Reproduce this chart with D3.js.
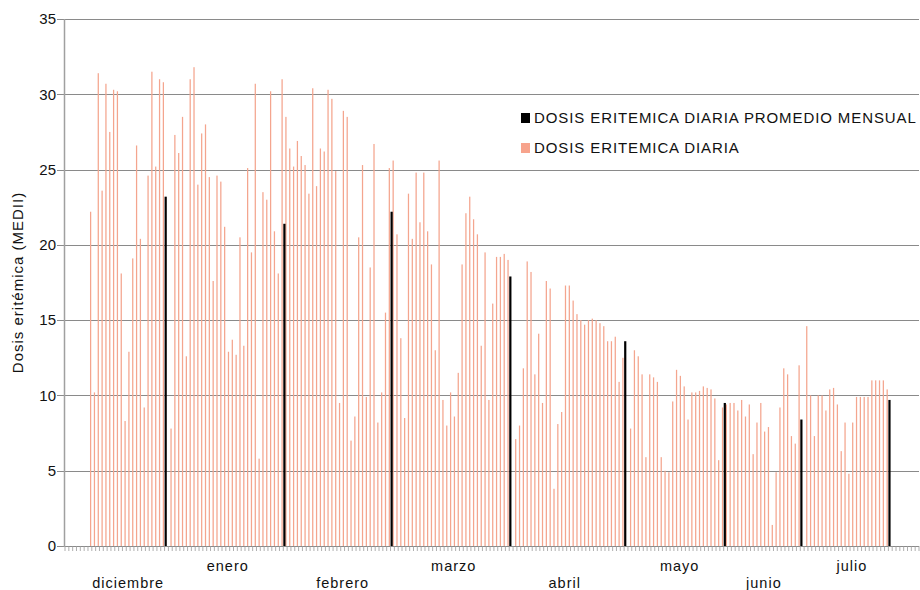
<!DOCTYPE html>
<html>
<head>
<meta charset="utf-8">
<script src="https://cdn.jsdelivr.net/npm/d3@7"></script>
<style>
  body { margin: 0; background: #fff; }
  svg text { font-family: "Liberation Sans", Arial, sans-serif; fill: #111; }
</style>
</head>
<body>
<svg id="chart" width="920" height="590"></svg>
<script>
// months, as labelled under the axis
var months = ['diciembre', 'enero', 'febrero', 'marzo', 'abril', 'mayo', 'junio', 'julio'];
// slot under which each month name is written
var labelSlots = [16, 42, 72, 101, 130, 160, 182, 205];

// monthly average dose (black bars)
var monthlyAvg = [23.2, 21.4, 22.2, 17.9, 13.6, 9.5, 8.4, 9.7];

// daily dose per month (pink bars), null = no reading
var dic = [22.2, 10.2, 31.4, 23.6, 30.7, 27.5, 30.3, 30.2, 18.1, 8.3, 12.9, 19.1, 26.6, 20.4, 9.2, 24.6, 31.5, 25.2, 31.0, 30.8];
var ene = [null, 7.8, 27.3, 26.1, 28.5, 12.6, 31.0, 31.8, 24.0, 27.4, 28.0, 24.5, 17.6, 24.6, 24.2, 21.2, 12.9, 13.7, 12.7, 20.5, 13.3, 25.1, 19.5, 30.7, 5.8, 23.5, 23.0, 30.2, 20.9, 18.1, 31.0];
var feb = [28.5, 26.4, 25.2, 26.9, 25.9, 25.3, 23.4, 30.4, 23.9, 26.4, 26.2, 30.3, 29.7, 24.9, 9.5, 28.9, 28.5, 7.0, 8.6, 20.5, 25.3, 9.9, 18.5, 26.7, 8.2, 10.2, 15.5, 25.1];
var mar = [25.6, 20.7, 13.8, 8.5, 23.4, 20.4, 24.8, 21.5, 24.8, 20.9, 18.7, 13.0, 25.6, 9.7, 8.0, 10.2, 8.6, 11.5, 18.7, 22.1, 23.2, 21.7, 20.7, 13.3, 19.5, 9.7, 16.1, 19.2, 19.2, 19.4, 19.0];
var abr = [null, 7.1, 8.0, 11.8, 18.9, 18.2, 11.4, 14.1, 9.5, 17.6, 17.1, 3.8, 8.1, 8.9, 17.3, 17.3, 16.3, 15.4, 15.0, 14.7, 15.0, 15.1, 15.0, 14.8, 14.6, 13.6, 13.6, 13.9, 10.9, 12.5];
var may = [null, 7.8, 13.0, 12.6, 11.4, 5.9, 11.4, 11.2, 10.9, 5.9, 5.0, 4.9, 9.6, 11.7, 11.3, 10.6, 8.4, 10.2, 10.2, 10.3, 10.6, 10.5, 10.4, 9.8, 5.7, 9.2];
var jun = [9.4, 9.5, 9.5, 9.0, 9.7, 8.6, 9.4, 6.1, 8.2, 9.5, 7.6, 7.9, 1.4, 4.9, 9.2, 11.8, 11.4, 7.3, 6.8, 12.0];
var jul = [null, 14.6, 10.0, 7.3, 10.0, 10.0, 9.0, 10.4, 10.5, 9.4, 6.3, 8.2, 4.8, 8.2, 9.9, 9.9, 9.9, 9.9, 11.0, 11.0, 11.0, 11.0, 10.4];

var yTicks = [0, 5, 10, 15, 20, 25, 30, 35];

var daily = [dic, ene, feb, mar, abr, may, jun, jul];
var leadSlots = 6, totalSlots = 223;

// one slot per day; the average of a month sits in the first slot of the next one
var slots = [];
for (var i = 0; i < leadSlots; i++) slots.push({pink: null, avg: null});
daily.forEach(function(days, m) {
    days.forEach(function(v, j) {
        slots.push({pink: v, avg: (j === 0 && m > 0) ? monthlyAvg[m - 1] : null});
    });
});
slots.push({pink: null, avg: monthlyAvg[monthlyAvg.length - 1]});
while (slots.length < totalSlots) slots.push({pink: null, avg: null});
slots.forEach(function(d, i) { d.i = i; });

var plotLeft = 65, plotRight = 919, plotTop = 19, plotBottom = 546;
var svg = d3.select('#chart');

var x = d3.scaleBand().domain(d3.range(totalSlots)).range([plotLeft, plotRight]).padding(0);
var y = d3.scaleLinear().domain([0, 35]).range([plotBottom, plotTop]);
var bw = x.bandwidth();

// grid lines
svg.append('g').selectAll('line').data(yTicks).enter().append('line')
    .attr('x1', plotLeft - 8).attr('x2', plotRight)
    .attr('y1', function(d) { return Math.round(y(d)) + 0.5; })
    .attr('y2', function(d) { return Math.round(y(d)) + 0.5; })
    .attr('stroke', '#8a8a8a').attr('stroke-width', 1);

// y axis labels
svg.append('g').selectAll('text').data(yTicks).enter().append('text')
    .attr('x', 56).attr('y', function(d) { return y(d); })
    .attr('dy', '0.35em').attr('text-anchor', 'end')
    .style('font-size', '15px')
    .text(function(d) { return d; });

// small ticks under the axis, one per slot
svg.append('g').selectAll('line').data(d3.range(totalSlots + 1)).enter().append('line')
    .attr('x1', function(d) { return (d < totalSlots ? x(d) : plotRight); })
    .attr('x2', function(d) { return (d < totalSlots ? x(d) : plotRight); })
    .attr('y1', plotBottom).attr('y2', plotBottom + 5)
    .attr('stroke', '#9a9a9a').attr('stroke-width', 0.8);

// daily bars
svg.append('g').selectAll('rect').data(slots.filter(function(d) { return d.pink !== null; }))
    .enter().append('rect')
    .attr('x', function(d) { return x(d.i) + bw / 2 + 0.1; })
    .attr('width', 1.25)
    .attr('y', function(d) { return y(d.pink); })
    .attr('height', function(d) { return plotBottom - y(d.pink); })
    .attr('fill', '#f4a58e');

// monthly average bars
svg.append('g').selectAll('rect').data(slots.filter(function(d) { return d.avg !== null; }))
    .enter().append('rect')
    .attr('x', function(d) { return x(d.i) + bw / 2 - 1.9; })
    .attr('width', 2.2)
    .attr('y', function(d) { return y(d.avg); })
    .attr('height', function(d) { return plotBottom - y(d.avg); })
    .attr('fill', '#000');

// left axis line
svg.append('line').attr('x1', plotLeft - 0.5).attr('x2', plotLeft - 0.5)
    .attr('y1', plotTop).attr('y2', plotBottom + 1)
    .attr('stroke', '#a0a0a0').attr('stroke-width', 1.5);

// month names, staggered
svg.append('g').selectAll('text').data(months).enter().append('text')
    .attr('x', function(d, i) { return x(labelSlots[i]) + bw / 2; })
    .attr('y', function(d, i) { return i % 2 === 0 ? 588 : 571; })
    .attr('text-anchor', 'middle')
    .style('font-size', '14.5px').style('letter-spacing', '1px')
    .text(function(d) { return d; });

// y title
svg.append('text')
    .attr('transform', 'translate(23,' + ((plotTop + plotBottom) / 2) + ') rotate(-90)')
    .attr('text-anchor', 'middle')
    .style('font-size', '15px').style('letter-spacing', '1px')
    .text('Dosis eritémica (MEDII)');

// legend
var legend = [
    {name: 'DOSIS ERITEMICA DIARIA PROMEDIO MENSUAL', color: '#000'},
    {name: 'DOSIS ERITEMICA DIARIA', color: '#f7a38c'}
];
var lg = svg.append('g').selectAll('g').data(legend).enter().append('g')
    .attr('transform', function(d, i) { return 'translate(521,' + (118 + i * 30) + ')'; });
lg.append('rect').attr('x', 0).attr('y', -5).attr('width', 9).attr('height', 10)
    .attr('fill', function(d) { return d.color; });
lg.append('text').attr('x', 13).attr('dy', '0.36em')
    .style('font-size', '15px').style('letter-spacing', '0.9px')
    .text(function(d) { return d.name; });
</script>
</body>
</html>
